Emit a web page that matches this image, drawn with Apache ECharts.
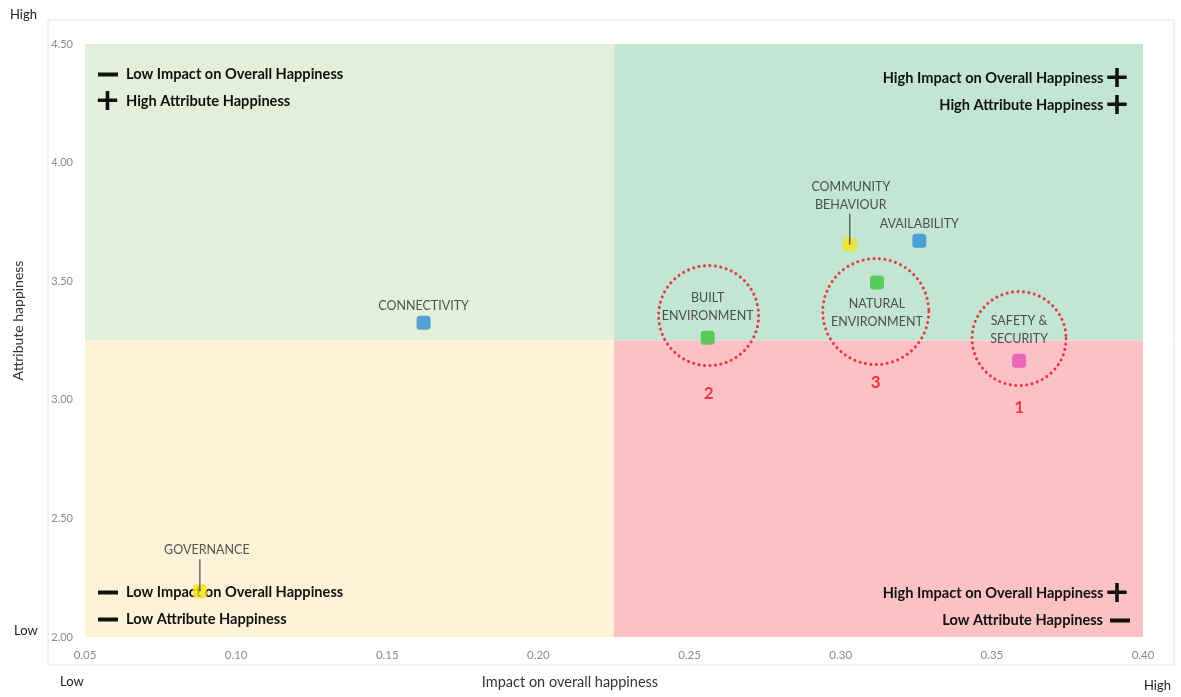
<!DOCTYPE html>
<html>
<head>
<meta charset="utf-8">
<script src="https://cdn.jsdelivr.net/npm/echarts@6/dist/echarts.min.js"></script>
<style>
html,body{margin:0;padding:0;background:#fff;}
#chart{width:1181px;height:697px;}
</style>
</head>
<body>
<div id="chart"></div>
<script>
// attributes: impact on overall happiness (x) vs attribute happiness (y)
const attrNames = ['CONNECTIVITY', 'GOVERNANCE', 'BUILT\nENVIRONMENT', 'COMMUNITY\nBEHAVIOUR', 'AVAILABILITY', 'NATURAL\nENVIRONMENT', 'SAFETY &\nSECURITY'];
const impactValues = [0.162, 0.088, 0.256, 0.303, 0.326, 0.312, 0.359];
const happinessValues = [3.325, 2.193, 3.262, 3.654, 3.671, 3.494, 3.165];
const pointColors = ['#2f8fd3', '#f2e41a', '#3cc63c', '#f2e41a', '#2f8fd3', '#3cc63c', '#e54fb3'];

// priority circles (centre x, centre y, rank)
const circleX = [0.2563, 0.3116, 0.359];
const circleY = [3.355, 3.372, 3.258];
const circleRank = ['2', '3', '1'];

// quadrant split
const xMid = 0.225;
const yMid = 3.25;
const xTicks = [0.05, 0.40];
const yTicks = [2.0, 4.5];

const chart = echarts.init(document.getElementById('chart'));

const FONT = 'Lato, "Open Sans", sans-serif';

const plusStyle = {fontFamily: '"DejaVu Sans", sans-serif', fontWeight: 'bold', fontSize: 31, color: '#111', lineHeight: 27};
const quadRich = {
    m: {width: 20, height: 4, backgroundColor: '#111', fontSize: 1, lineHeight: 27},
    pl: Object.assign({width: 31.5}, plusStyle),   // left side plus incl. gap
    pr: Object.assign({width: 22.5}, plusStyle),   // right side plus
    h: {width: 3.5, fontSize: 1, lineHeight: 27},
    g: {width: 8, fontSize: 1, lineHeight: 27},
    gr: {width: 7, fontSize: 1, lineHeight: 27},
    gp: {width: 4, fontSize: 1, lineHeight: 27},
    t: {fontFamily: FONT, fontWeight: 'bold', fontSize: 14.6, color: '#111', lineHeight: 27}
};

// per-point label placement
const labelCfg = [
    {position: 'top', distance: 1},
    {position: 'top', distance: -7, offset: [7, 0]},
    {position: 'top', distance: 6},
    {position: 'top', distance: -7, offset: [1, 0]},
    {position: 'top', distance: 1},
    {position: 'bottom', distance: 5},
    {position: 'top', distance: 6}
];
// labels that sit above a leader line: [line length, spacer width]
const leaderCfg = {1: [32, 14], 3: [31, 2]};

const pointData = attrNames.map(function(name, i) {
    const item = {
        name: name,
        value: [impactValues[i], happinessValues[i]],
        itemStyle: {color: pointColors[i]},
        label: labelCfg[i]
    };
    if (leaderCfg[i]) {
        const lines = name.split('\n').map(function(s) { return '{b|' + s + '}'; }).join('\n');
        item.label = Object.assign({}, labelCfg[i], {
            formatter: lines + '\n{l| }{sp| }',
            rich: {
                b: {fontSize: 12.5, lineHeight: 18, color: '#2a2a2a', fontFamily: FONT},
                l: {width: 1.2, height: leaderCfg[i][0], lineHeight: leaderCfg[i][0], backgroundColor: '#222', fontSize: 1},
                sp: {width: leaderCfg[i][1], fontSize: 1, lineHeight: 10}
            }
        });
    }
    return item;
});

const circleData = circleX.map(function(x, i) {
    return {
        value: [x, circleY[i]],
        symbolSize: [100, 106, 94][i],
        label: {distance: [18, 8, 12][i]},
        rank: circleRank[i]
    };
});

chart.setOption({
    animation: false,
    textStyle: {fontFamily: FONT},
    grid: {left: 85, right: 38, top: 44, bottom: 60},
    graphic: [
        {type: 'rect', shape: {x: 48, y: 20, width: 1126, height: 645}, style: {fill: 'none', stroke: '#e4e4e4', lineWidth: 1}, z: -10},
        {type: 'text', left: 10, top: 8, style: {text: 'High', font: '13px ' + FONT, fill: '#222'}},
        {type: 'text', left: 14, top: 624, style: {text: 'Low', font: '13px ' + FONT, fill: '#222'}},
        {type: 'text', left: 60, top: 675, style: {text: 'Low', font: '13px ' + FONT, fill: '#222'}},
        {type: 'text', left: 1144, top: 679, style: {text: 'High', font: '13px ' + FONT, fill: '#222'}}
    ],
    xAxis: {
        type: 'value',
        min: xTicks[0],
        max: xTicks[1],
        interval: 0.05,
        name: 'Impact on overall happiness',
        nameLocation: 'middle',
        nameGap: 38,
        nameTextStyle: {fontSize: 14.5, color: '#333', padding: [0, 88, 0, 0]},
        axisLine: {show: false},
        axisTick: {show: false},
        splitLine: {show: false},
        axisLabel: {color: '#8a8a8a', fontSize: 11.5, margin: 12, formatter: function(v) { return v.toFixed(2); }}
    },
    yAxis: {
        type: 'value',
        min: yTicks[0],
        max: yTicks[1],
        interval: 0.5,
        name: 'Attribute happiness',
        nameLocation: 'middle',
        nameGap: 60,
        nameTextStyle: {fontSize: 14, color: '#333', padding: [0, 0, 0, 40]},
        axisLine: {show: false},
        axisTick: {show: false},
        splitLine: {show: false},
        axisLabel: {color: '#8a8a8a', fontSize: 11, margin: 12, formatter: function(v) { return v.toFixed(2); }}
    },
    series: [
        {
            type: 'scatter',
            data: [],
            silent: true,
            markArea: {
                silent: true,
                data: [
                    [{xAxis: xTicks[0], yAxis: yMid, itemStyle: {color: '#e3efd8'},
                      label: {position: 'insideTopLeft', distance: 0, padding: [17, 0, 0, 9.5], rich: quadRich,
                              formatter: '{h| }{m| }{g| }{t|Low Impact on Overall Happiness}\n{pl|+}{t|High Attribute Happiness}'}},
                     {xAxis: xMid, yAxis: yTicks[1]}],
                    [{xAxis: xMid, yAxis: yMid, itemStyle: {color: '#c3e5d4'},
                      label: {position: 'insideTopRight', distance: 0, align: 'right', padding: [21, 13, 0, 0], rich: quadRich,
                              formatter: '{t|High Impact on Overall Happiness}{gp| }{pr|+}\n{t|High Attribute Happiness}{gp| }{pr|+}'}},
                     {xAxis: xTicks[1], yAxis: yTicks[1]}],
                    [{xAxis: xTicks[0], yAxis: yTicks[0], itemStyle: {color: '#fcf2d8'},
                      label: {position: 'insideBottomLeft', distance: 0, padding: [0, 0, 4, 9.5], rich: quadRich,
                              formatter: '{h| }{m| }{g| }{t|Low Impact on Overall Happiness}\n{h| }{m| }{g| }{t|Low Attribute Happiness}'}},
                     {xAxis: xMid, yAxis: yMid}],
                    [{xAxis: xMid, yAxis: yTicks[0], itemStyle: {color: '#fcc1c5'},
                      label: {position: 'insideBottomRight', distance: 0, align: 'right', padding: [0, 13, 3, 0], rich: quadRich,
                              formatter: '{t|High Impact on Overall Happiness}{gp| }{pr|+}\n{t|Low Attribute Happiness}{gr| }{m| }'}},
                     {xAxis: xTicks[1], yAxis: yMid}]
                ]
            }
        },
        {
            type: 'scatter',
            name: 'priority',
            z: 3,
            symbol: 'circle',
            itemStyle: {color: 'rgba(0,0,0,0)', borderColor: '#e8141c', borderWidth: 3, borderType: [0.1, 5.4], borderCap: 'round'},
            label: {
                show: true,
                position: 'bottom',
                color: '#e8141c',
                fontWeight: 'bold',
                fontSize: 17,
                fontFamily: FONT,
                formatter: function(p) { return p.data.rank; }
            },
            data: circleData
        },
        {
            type: 'scatter',
            name: 'attributes',
            z: 5,
            symbol: 'roundRect',
            symbolSize: 14,
            label: {
                show: true,
                color: '#2a2a2a',
                fontSize: 12.5,
                lineHeight: 18,
                fontFamily: FONT,
                formatter: '{b}'
            },
            data: pointData
        }
    ]
});
</script>
</body>
</html>
